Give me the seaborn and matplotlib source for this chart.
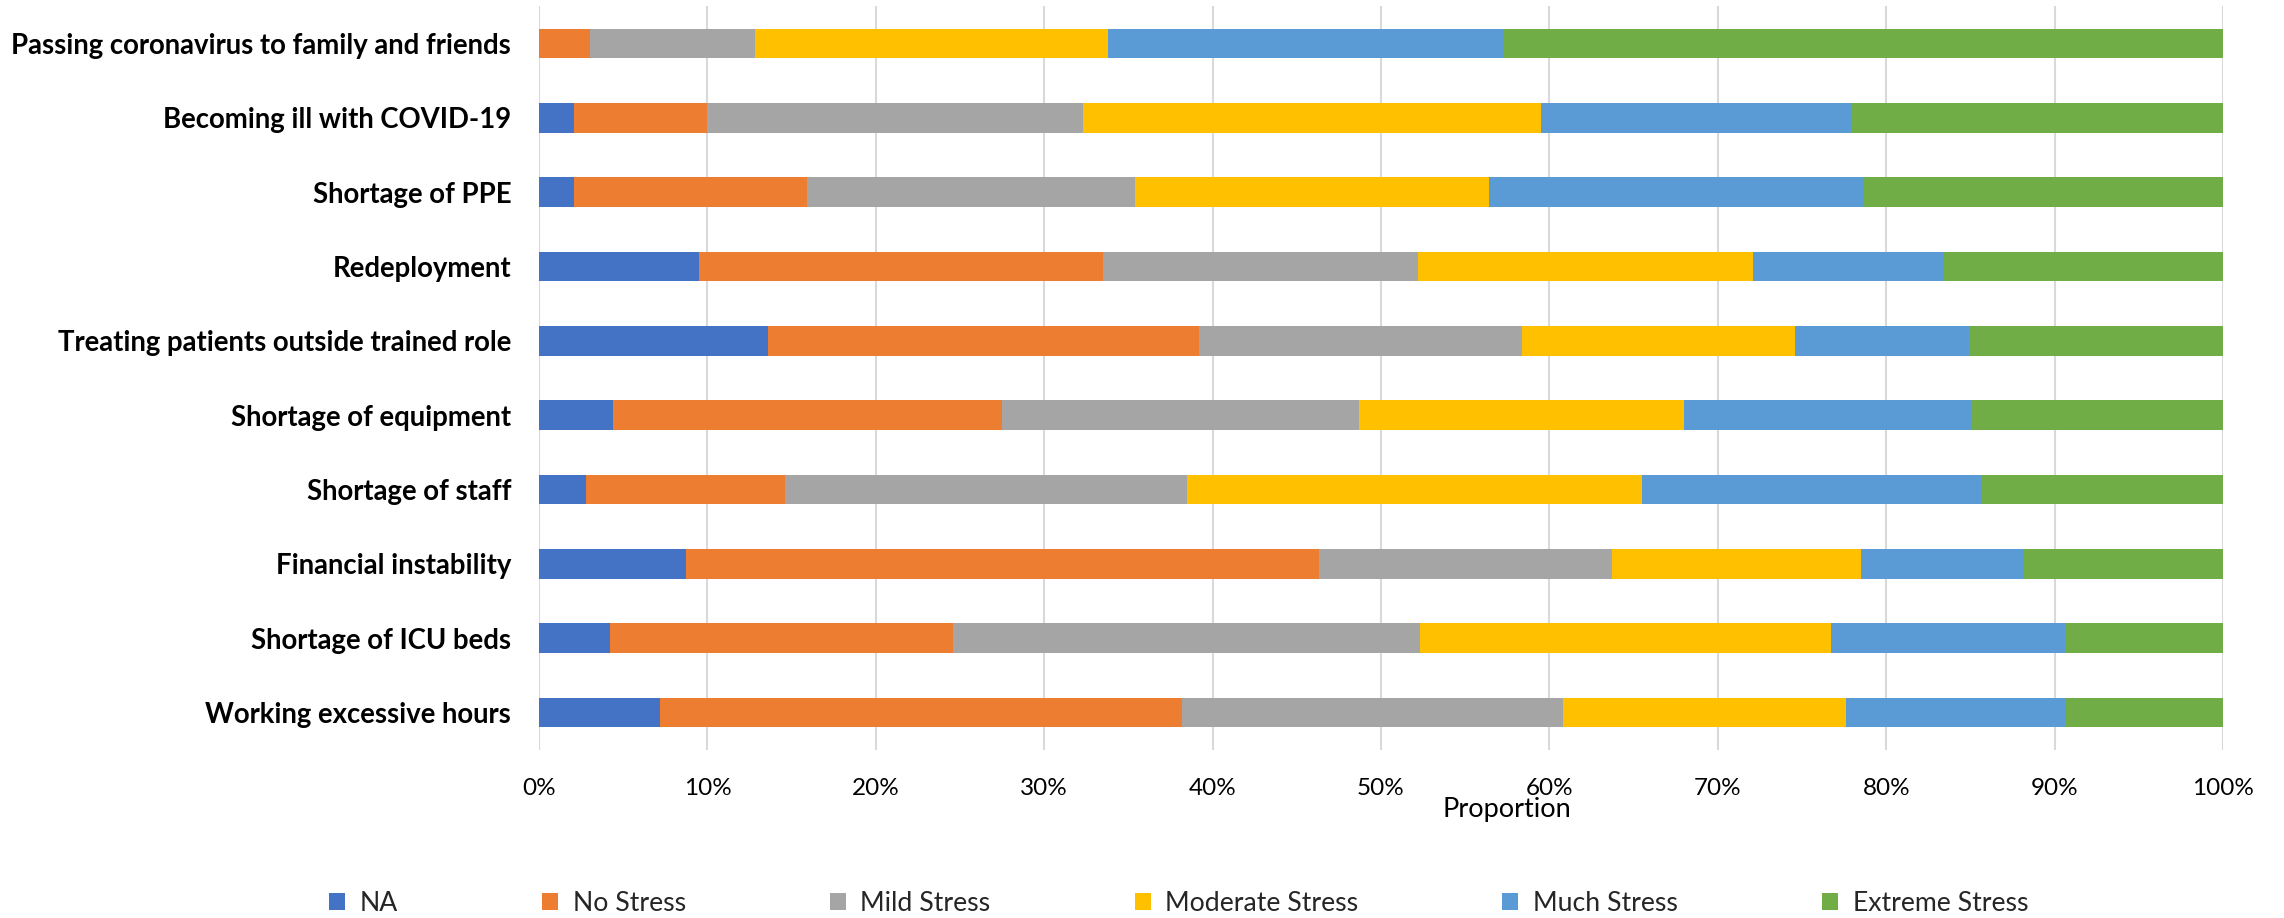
import numpy as np
import pandas as pd
import matplotlib
matplotlib.use("Agg")
import matplotlib.pyplot as plt
import seaborn as sns
from matplotlib.patches import Patch

# ---------------- data (percent of respondents) ----------------
categories = [
    "Passing coronavirus to family and friends",
    "Becoming ill with COVID-19",
    "Shortage of PPE",
    "Redeployment",
    "Treating patients outside trained role",
    "Shortage of equipment",
    "Shortage of staff",
    "Financial instability",
    "Shortage of ICU beds",
    "Working excessive hours",
]
levels = ["NA", "No Stress", "Mild Stress", "Moderate Stress", "Much Stress", "Extreme Stress"]
na_vals = [0.0, 2.1, 2.1, 9.5, 13.6, 4.4, 2.8, 8.7, 4.2, 7.2]
no_stress = [3.0, 7.9, 13.8, 24.0, 25.6, 23.1, 11.8, 37.6, 20.4, 31.0]
mild_stress = [9.8, 22.3, 19.5, 18.7, 19.2, 21.2, 23.9, 17.4, 27.7, 22.6]
moderate_stress = [21.0, 27.2, 21.0, 19.9, 16.2, 19.3, 27.0, 14.8, 24.4, 16.8]
much_stress = [23.5, 18.4, 22.3, 11.3, 10.3, 17.1, 20.1, 9.7, 13.9, 13.1]
extreme_stress = [42.7, 22.1, 21.3, 16.6, 15.1, 14.9, 14.4, 11.8, 9.4, 9.3]
x_ticks = [0, 10, 20, 30, 40, 50, 60, 70, 80, 90, 100]
x_tick_labels = ["0%", "10%", "20%", "30%", "40%", "50%", "60%", "70%", "80%", "90%", "100%"]

colors = ["#4472C4", "#ED7D31", "#A5A5A5", "#FFC000", "#5B9BD5", "#70AD47"]

# ---------------- style ----------------
sns.set_theme(style="white")
plt.rcParams["font.family"] = ["Lato", "DejaVu Sans"]

df = pd.DataFrame(
    {
        "category": categories,
        "NA": na_vals,
        "No Stress": no_stress,
        "Mild Stress": mild_stress,
        "Moderate Stress": moderate_stress,
        "Much Stress": much_stress,
        "Extreme Stress": extreme_stress,
    }
)
cum = df[levels].cumsum(axis=1)

fig = plt.figure(figsize=(22.84, 9.18), dpi=100)
ax = fig.add_axes([0.236, 0.1833, 0.9733 - 0.236, 0.9931 - 0.1833])

# stacked bars: draw cumulative totals from the outermost level inwards
for i in reversed(range(len(levels))):
    sns.barplot(
        x=cum[levels[i]],
        y=df["category"],
        order=categories,
        orient="h",
        color=colors[i],
        saturation=1,
        width=0.4,
        linewidth=0,
        errorbar=None,
        ax=ax,
    )

ax.set_xlim(0, 100)
ax.set_ylim(len(categories) - 0.5, -0.5)
ax.set_xticks(x_ticks)
ax.set_xticklabels(x_tick_labels)
ax.grid(axis="x", color="#D9D9D9", linewidth=1.5)
ax.grid(axis="y", visible=False)
ax.set_axisbelow(True)
for s in ax.spines.values():
    s.set_visible(False)

ax.tick_params(axis="x", length=0, pad=20, labelsize=17.5, labelcolor="#000000")
ax.tick_params(axis="y", length=0, pad=20, labelsize=19.8, labelcolor="#000000")
for lbl in ax.get_yticklabels():
    lbl.set_fontweight("bold")

ax.set_ylabel("")
ax.set_xlabel("Proportion", fontsize=19.5, color="#000000")
ax.xaxis.set_label_coords(0.575, -0.081)
ax.xaxis.label.set_verticalalignment("center")

handles = [Patch(facecolor=c, edgecolor="none", label=l) for c, l in zip(colors, levels)]
fig.legend(
    handles=handles,
    loc="center",
    bbox_to_anchor=(0.516, 0.0163),
    ncol=6,
    frameon=False,
    fontsize=19.2,
    handlelength=0.6,
    handleheight=0.6,
    handletextpad=0.55,
    columnspacing=5.4,
)

fig.savefig("out.png", dpi=100)
